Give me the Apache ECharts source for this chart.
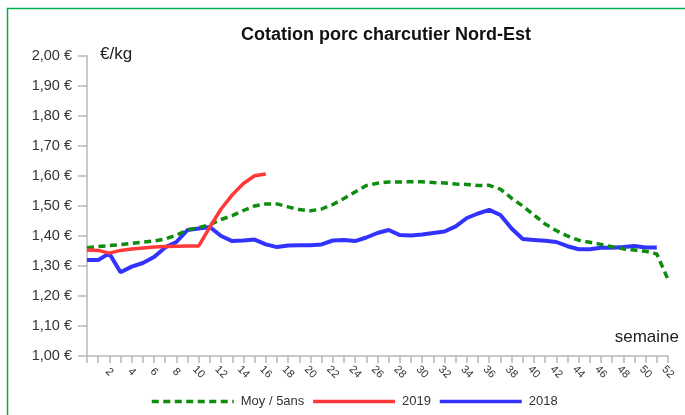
<!DOCTYPE html>
<html>
<head>
<meta charset="utf-8">
<script src="https://cdn.jsdelivr.net/npm/echarts@6/dist/echarts.min.js"></script>
<style>
html,body{margin:0;padding:0;background:#fff;}
#chart{width:685px;height:415px;}
</style>
</head>
<body>
<div id="chart"></div>
<script>
// Weeks (x positions) and tick labels
const weeks = [0,1,2,3,4,5,6,7,8,9,10,11,12,13,14,15,16,17,18,19,20,21,22,23,24,25,26,27,28,29,30,31,32,33,34,35,36,37,38,39,40,41,42,43,44,45,46,47,48,49,50,51,52];
const xTickLabels = ['2','4','6','8','10','12','14','16','18','20','22','24','26','28','30','32','34','36','38','40','42','44','46','48','50','52'];
const yTicks = [1.0,1.1,1.2,1.3,1.4,1.5,1.6,1.7,1.8,1.9,2.0];

// Series values (€/kg)
const moy5ans = [1.361,1.365,1.368,1.371,1.375,1.380,1.383,1.390,1.403,1.420,1.428,1.438,1.455,1.468,1.485,1.500,1.507,1.507,1.497,1.488,1.484,1.490,1.505,1.525,1.547,1.568,1.576,1.580,1.580,1.581,1.581,1.578,1.577,1.573,1.572,1.568,1.569,1.556,1.526,1.500,1.470,1.440,1.418,1.400,1.386,1.379,1.372,1.364,1.357,1.353,1.349,1.340,1.255];
const y2019 = [1.353,1.352,1.343,1.352,1.357,1.360,1.363,1.365,1.366,1.367,1.367,1.430,1.490,1.537,1.575,1.601,1.607];
const y2018 = [1.320,1.320,1.342,1.279,1.298,1.310,1.330,1.362,1.380,1.420,1.425,1.430,1.400,1.383,1.385,1.388,1.372,1.363,1.368,1.369,1.369,1.372,1.385,1.387,1.383,1.395,1.410,1.420,1.403,1.402,1.405,1.410,1.415,1.432,1.460,1.475,1.487,1.470,1.425,1.390,1.387,1.384,1.380,1.366,1.356,1.356,1.361,1.361,1.363,1.367,1.362,1.362];

const seriesNames = ['Moy / 5ans','2019','2018'];
const titleText = 'Cotation porc charcutier Nord-Est';
const yUnit = '€/kg';
const xUnit = 'semaine';

function pairs(vals){ return vals.map((v,i)=>[weeks[i], v]); }

const chart = echarts.init(document.getElementById('chart'), null, {renderer:'canvas'});
const FONT = '"Liberation Sans", Arial, sans-serif';
const axisGray = '#b8b8b8';

chart.setOption({
  animation:false,
  backgroundColor:'#ffffff',
  title:{
    text:titleText, left:241, top:26, padding:0,
    textStyle:{fontFamily:FONT, fontSize:18, fontWeight:'bold', color:'#111'}
  },
  legend:{
    left:150, top:395, padding:0, itemWidth:82, itemHeight:8, itemGap:7,
    itemStyle:{opacity:0},
    lineStyle:{width:3.5},
    textStyle:{fontFamily:FONT, fontSize:13, color:'#333', padding:[0,0,0,2]},
    data:seriesNames
  },
  grid:{left:87, right:17, top:56, bottom:59, containLabel:false},
  xAxis:{
    type:'value', min:0, max:52, interval:1,
    axisLine:{show:true, lineStyle:{color:axisGray, width:1.5}},
    axisTick:{show:true, length:7, lineStyle:{color:axisGray, width:1.5}},
    splitLine:{show:false},
    axisLabel:{
      rotate:-45, align:'center', verticalAlign:'middle', margin:16,
      fontFamily:FONT, fontSize:11, color:'#333',
      formatter:function(v){ const s=String(v); return xTickLabels.indexOf(s)>=0 ? s : ''; }
    }
  },
  yAxis:{
    type:'value', min:yTicks[0], max:yTicks[yTicks.length-1], interval:0.1,
    axisLine:{show:true, lineStyle:{color:axisGray, width:1.5}},
    axisTick:{show:true, inside:false, length:9, lineStyle:{color:axisGray, width:1.5}},
    splitLine:{show:false},
    axisLabel:{
      margin:15, fontFamily:FONT, fontSize:14.5, color:'#333',
      formatter:function(v){ return v.toFixed(2).replace('.',',')+' €'; }
    }
  },
  graphic:[
    {type:'rect', silent:true, shape:{x:7.5,y:8.5,width:700,height:430},
     style:{fill:null, stroke:'#00b050', lineWidth:1.5}, z:-1},
    {type:'text', left:100, top:46, style:{text:yUnit, font:'17px '+FONT, fill:'#222'}},
    {type:'text', right:6, top:329, style:{text:xUnit, font:'17px '+FONT, fill:'#222'}}
  ],
  series:[
    {name:seriesNames[0], type:'line', data:pairs(moy5ans), showSymbol:false, symbol:'none',
     color:'#0e8c0e', lineStyle:{color:'#0e8c0e', width:3.5, type:[7,4.5]}, z:2},
    {name:seriesNames[1], type:'line', data:pairs(y2019), showSymbol:false, symbol:'none',
     color:'#ff3838', lineStyle:{color:'#ff3838', width:3.5}, z:3},
    {name:seriesNames[2], type:'line', data:pairs(y2018), showSymbol:false, symbol:'none',
     color:'#3333ff', lineStyle:{color:'#3333ff', width:4}, z:1}
  ]
});
</script>
</body>
</html>
